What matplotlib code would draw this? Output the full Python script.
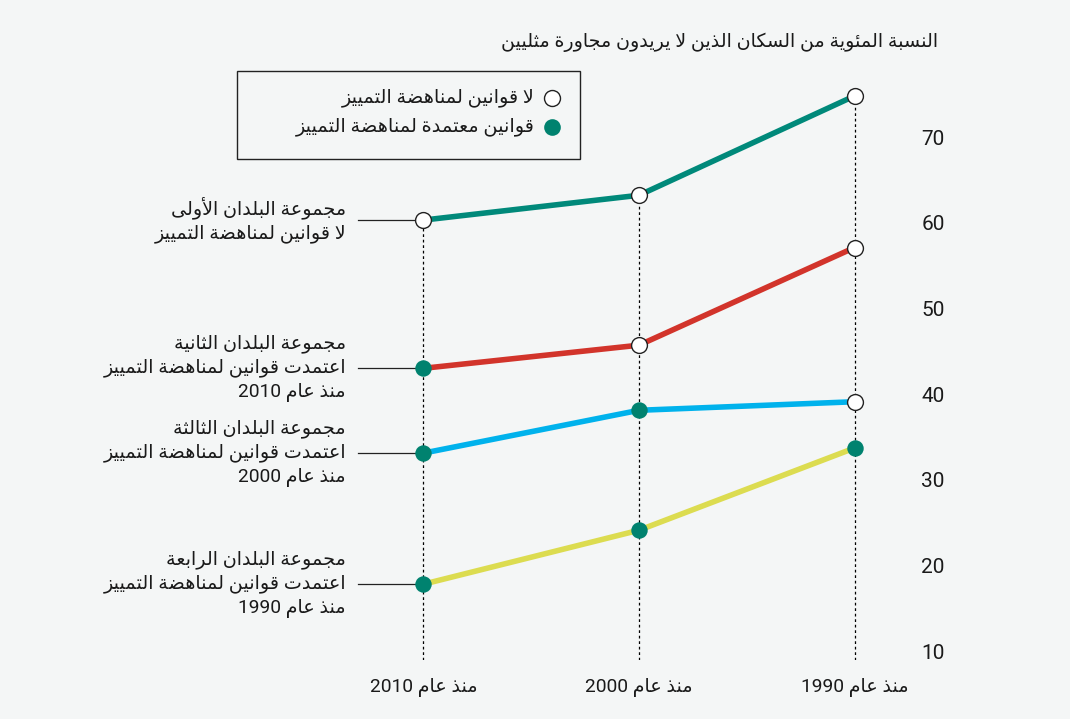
import re
import matplotlib
matplotlib.use("Agg")
import matplotlib.pyplot as plt
from matplotlib.lines import Line2D
from matplotlib.patches import Rectangle

# data
periods = ["منذ عام 2010", "منذ عام 2000", "منذ عام 1990"]
group1 = [60.3, 63.2, 74.8]
group2 = [43.0, 45.7, 57.1]
group3 = [33.1, 38.1, 39.1]
group4 = [17.8, 24.1, 33.7]
law1 = [False, False, False]
law2 = [True, False, False]
law3 = [True, True, False]
law4 = [True, True, True]
group_labels = [
    "مجموعة البلدان الأولى\nلا قوانين لمناهضة التمييز",
    "مجموعة البلدان الثانية\nاعتمدت قوانين لمناهضة التمييز\nمنذ عام 2010",
    "مجموعة البلدان الثالثة\nاعتمدت قوانين لمناهضة التمييز\nمنذ عام 2000",
    "مجموعة البلدان الرابعة\nاعتمدت قوانين لمناهضة التمييز\nمنذ عام 1990",
]
yticks = [10, 20, 30, 40, 50, 60, 70]
title = "النسبة المئوية من السكان الذين لا يريدون مجاورة مثليين"
legend_labels = ["لا قوانين لمناهضة التمييز", "قوانين معتمدة لمناهضة التمييز"]

line_colors = ["#00897a", "#d2342b", "#00b2ec", "#dcdc50"]
marker_green = "#00826f"
bg = "#f4f6f6"
fonts = ["Roboto", "DejaVu Sans"]

# --- minimal arabic shaping (matplotlib has no complex text layout) ---
_letters = [("ء", 0xFE80, 1), ("آ", 0xFE81, 2), ("أ", 0xFE83, 2), ("ؤ", 0xFE85, 2),
            ("إ", 0xFE87, 2), ("ئ", 0xFE89, 4), ("ا", 0xFE8D, 2), ("ب", 0xFE8F, 4),
            ("ة", 0xFE93, 2), ("ت", 0xFE95, 4), ("ث", 0xFE99, 4), ("ج", 0xFE9D, 4),
            ("ح", 0xFEA1, 4), ("خ", 0xFEA5, 4), ("د", 0xFEA9, 2), ("ذ", 0xFEAB, 2),
            ("ر", 0xFEAD, 2), ("ز", 0xFEAF, 2), ("س", 0xFEB1, 4), ("ش", 0xFEB5, 4),
            ("ص", 0xFEB9, 4), ("ض", 0xFEBD, 4), ("ط", 0xFEC1, 4), ("ظ", 0xFEC5, 4),
            ("ع", 0xFEC9, 4), ("غ", 0xFECD, 4), ("ف", 0xFED1, 4), ("ق", 0xFED5, 4),
            ("ك", 0xFED9, 4), ("ل", 0xFEDD, 4), ("م", 0xFEE1, 4), ("ن", 0xFEE5, 4),
            ("ه", 0xFEE9, 4), ("و", 0xFEED, 2), ("ى", 0xFEEF, 2), ("ي", 0xFEF1, 4)]
FORMS = {c: (b, n) for c, b, n in _letters}
LAM_ALEF = {"آ": 0xFEF5, "أ": 0xFEF7, "إ": 0xFEF9, "ا": 0xFEFB}


def shape_line(s):
    units = []
    i = 0
    while i < len(s):
        c = s[i]
        if c == "ل" and i + 1 < len(s) and s[i + 1] in LAM_ALEF:
            units.append((LAM_ALEF[s[i + 1]], 2))
            i += 2
        else:
            units.append(FORMS.get(c, (ord(c), 0)))
            i += 1
    out = []
    for k, (base, n) in enumerate(units):
        if n == 0:
            out.append(chr(base))
            continue
        prev = n >= 2 and k > 0 and units[k - 1][1] == 4
        nxt = n == 4 and k + 1 < len(units) and units[k + 1][1] >= 2
        if n == 1:
            out.append(chr(base))
        elif n == 2:
            out.append(chr(base + 1 if prev else base))
        else:
            off = 3 if (prev and nxt) else 1 if prev else 2 if nxt else 0
            out.append(chr(base + off))
    vis = "".join(out)[::-1]
    return re.sub(r"[0-9]+", lambda m: m.group()[::-1], vis)


def ar(s):
    return "\n".join(shape_line(l) for l in s.split("\n"))


fig = plt.figure(figsize=(10.7, 7.19), dpi=100, facecolor=bg)
W, H = 1070, 719
ax = fig.add_axes([315.5 / W, (H - 659.6) / H, (921.5 - 315.5) / W, (659.6 - 85.6) / H])
ax.set_facecolor(bg)
ax.set_xlim(-0.5, 2.31)
ax.set_ylim(9, 76)
for sp in ax.spines.values():
    sp.set_visible(False)

x = [0, 1, 2]
groups = [group1, group2, group3, group4]
laws = [law1, law2, law3, law4]

tops = [max(g[i] for g in groups) for i in x]
ax.vlines(x, 9, tops, colors="black", linestyles=(0, (2.2, 2.2)), linewidth=0.9, zorder=1)

for g, law, col in zip(groups, laws, line_colors):
    ax.plot(x, g, color=col, linewidth=4, solid_capstyle="butt", zorder=2)
    fx = [xi for xi, l in zip(x, law) if l]
    fy = [v for v, l in zip(g, law) if l]
    ox = [xi for xi, l in zip(x, law) if not l]
    oy = [v for v, l in zip(g, law) if not l]
    ax.scatter(fx, fy, s=140, color=marker_green, zorder=3, linewidths=0)
    ax.scatter(ox, oy, s=130, facecolor="white", edgecolor="#222222", linewidths=1.0, zorder=3)

for g, lab in zip(groups, group_labels):
    ax.plot([-0.302, 0], [g[0], g[0]], color="#222222", linewidth=0.9, zorder=1)
    ax.text(-0.358, g[0], ar(lab), ha="right", va="center", multialignment="right",
            fontsize=13.8, family=fonts, color="#1a1a1a", linespacing=1.38)

ax.set_xticks(x)
ax.set_xticklabels([ar(p) for p in periods], family=fonts, fontsize=13.8, color="#1a1a1a")
ax.tick_params(axis="x", length=0, pad=13)
ax.yaxis.tick_right()
ax.set_yticks(yticks)
ax.set_yticklabels([str(t) for t in yticks], family=fonts, fontsize=15, color="#1a1a1a")
ax.tick_params(axis="y", length=0, pad=0)

fig.text(938 / W, 1 - 42 / H, ar(title), ha="right", va="center", fontsize=13.7,
         family=fonts, color="#1a1a1a")

# legend box (right-to-left, drawn by hand)
fig.patches.append(Rectangle((237 / W, 1 - 159 / H), (580 - 237) / W, (159 - 71) / H,
                             transform=fig.transFigure, facecolor="none",
                             edgecolor="#222222", linewidth=1.0))
leg_y = [98, 127]
fig.add_artist(Line2D([551.5 / W], [1 - leg_y[0] / H], marker="o", markersize=11.5,
                      markerfacecolor="white", markeredgecolor="#222222",
                      markeredgewidth=1.0, linestyle="none", transform=fig.transFigure))
fig.add_artist(Line2D([552 / W], [1 - leg_y[1] / H], marker="o", markersize=12,
                      markerfacecolor=marker_green, markeredgewidth=0,
                      linestyle="none", transform=fig.transFigure))
for yy, lab in zip(leg_y, legend_labels):
    fig.text(535 / W, 1 - yy / H, ar(lab), ha="right", va="center", fontsize=13.9,
             family=fonts, color="#1a1a1a")

fig.savefig("out.png", dpi=100, facecolor=bg)
